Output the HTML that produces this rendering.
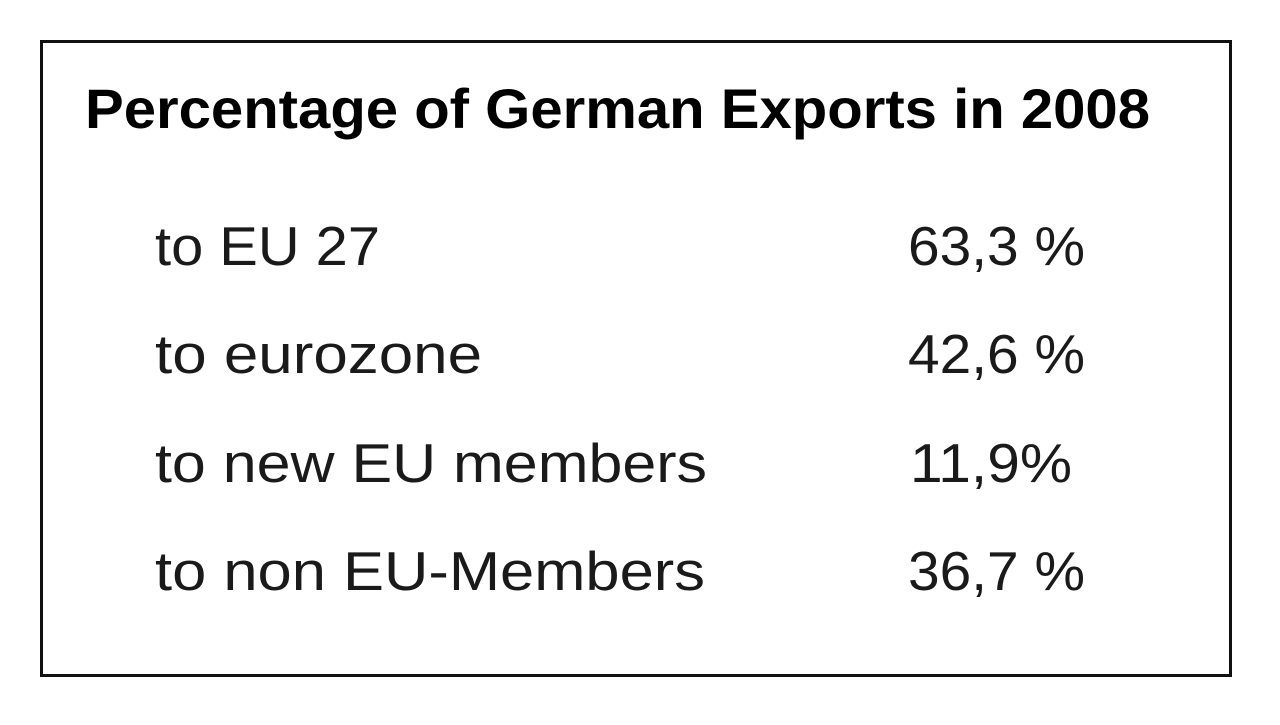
<!DOCTYPE html>
<html><head><meta charset="utf-8"><style>html,body{margin:0;padding:0;background:#fff;width:1280px;height:725px;overflow:hidden}</style></head>
<body>
<svg width="1280" height="725" xmlns="http://www.w3.org/2000/svg">
<rect x="0" y="0" width="1280" height="725" fill="#fff"/>
<rect x="41.5" y="41.5" width="1189" height="634" fill="none" stroke="#111" stroke-width="3"/>
<g font-family="Liberation Sans, sans-serif">
<text x="85" y="128" font-size="56" font-weight="bold" fill="#000" textLength="1065" lengthAdjust="spacingAndGlyphs">Percentage of German Exports in 2008</text>
<g font-size="55" fill="#1a1a1a">
<text x="155" y="265" textLength="225" lengthAdjust="spacingAndGlyphs">to EU 27</text>
<text x="155" y="373" textLength="327" lengthAdjust="spacingAndGlyphs">to eurozone</text>
<text x="155" y="482" textLength="552" lengthAdjust="spacingAndGlyphs">to new EU members</text>
<text x="155" y="590" textLength="550" lengthAdjust="spacingAndGlyphs">to non EU-Members</text>
<text x="908" y="265" textLength="177" lengthAdjust="spacingAndGlyphs">63,3 %</text>
<text x="908" y="373" textLength="177" lengthAdjust="spacingAndGlyphs">42,6 %</text>
<text x="910" y="482" textLength="162" lengthAdjust="spacingAndGlyphs">11,9%</text>
<text x="908" y="590" textLength="177" lengthAdjust="spacingAndGlyphs">36,7 %</text>
</g>
</g>
</svg>
</body></html>
